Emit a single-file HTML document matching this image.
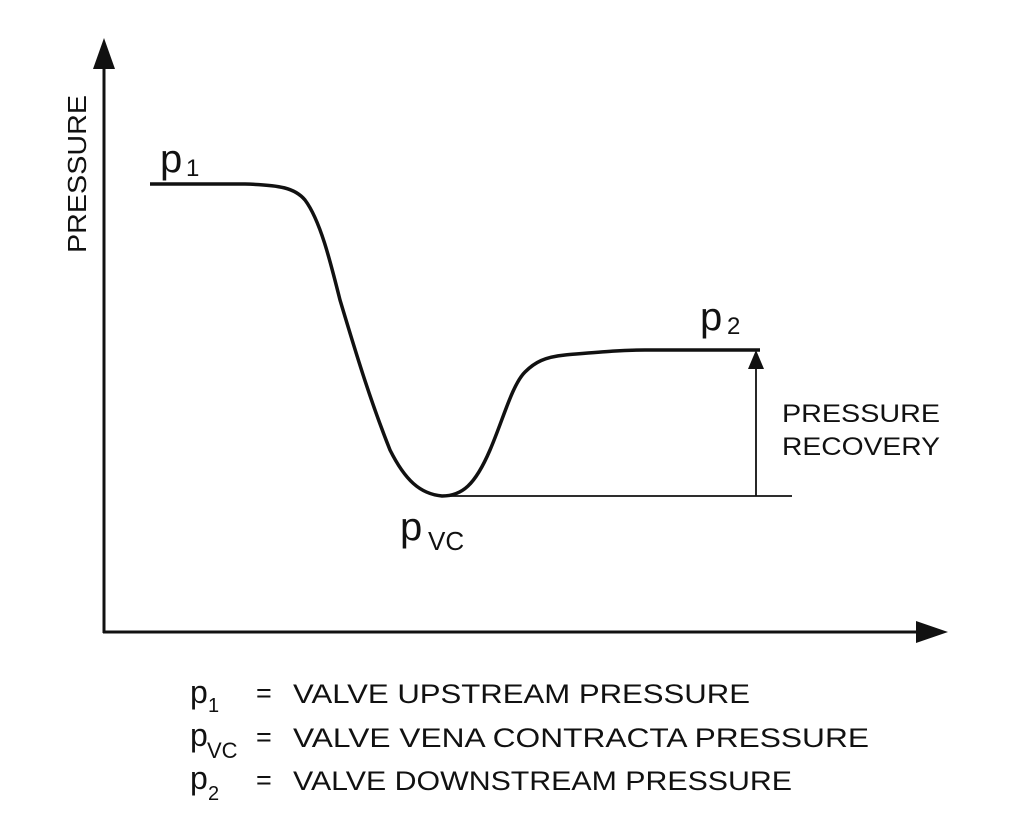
<!DOCTYPE html>
<html><head><style>body{margin:0;background:#fff}svg{display:block}</style></head>
<body>
<svg width="1024" height="815" viewBox="0 0 1024 815" xmlns="http://www.w3.org/2000/svg" font-family="Liberation Sans, sans-serif" fill="#111">
<line x1="104" y1="66" x2="104" y2="633" stroke="#111" stroke-width="3"/>
<polygon points="104,38 93,69 115,69" fill="#111"/>
<line x1="103" y1="632" x2="918" y2="632" stroke="#111" stroke-width="3"/>
<polygon points="948,632 916,621 916,643" fill="#111"/>
<path d="M150,184 L245,184 C280,185 295,188 305,200 C320,220 330,260 340,300 C355,350 370,400 390,450 C405,480 420,494 442,496 C462,496 475,485 490,450 C503,420 512,385 525,372 C535,362 545,357 565,355 C600,352 620,350 645,350 L760,350" fill="none" stroke="#111" stroke-width="3.5"/>
<line x1="442" y1="496" x2="792" y2="496" stroke="#111" stroke-width="1.8"/>
<line x1="756" y1="496" x2="756" y2="366" stroke="#111" stroke-width="1.8"/>
<polygon points="756,350 748,369 764,369" fill="#111"/>
<text transform="translate(86,253) rotate(-90)" font-size="26" textLength="158" lengthAdjust="spacingAndGlyphs">PRESSURE</text>
<text x="160" y="172" font-size="40">p</text><text x="186" y="176" font-size="24">1</text>
<text x="700" y="330" font-size="40">p</text><text x="727" y="334" font-size="24">2</text>
<text x="400" y="540" font-size="40">p</text><text x="428" y="550" font-size="26">VC</text>
<text x="782" y="422" font-size="25" textLength="158" lengthAdjust="spacingAndGlyphs">PRESSURE</text>
<text x="782" y="455" font-size="25" textLength="158" lengthAdjust="spacingAndGlyphs">RECOVERY</text>
<g font-size="27">
<text x="190" y="703" font-size="32">p</text><text x="208" y="712" font-size="20">1</text>
<text x="256" y="702">=</text>
<text x="293" y="703" textLength="457" lengthAdjust="spacingAndGlyphs">VALVE UPSTREAM PRESSURE</text>
<text x="190" y="746" font-size="32">p</text><text x="207" y="758" font-size="22">VC</text>
<text x="256" y="746">=</text>
<text x="293" y="747" textLength="576" lengthAdjust="spacingAndGlyphs">VALVE VENA CONTRACTA PRESSURE</text>
<text x="190" y="789" font-size="32">p</text><text x="208" y="800" font-size="20">2</text>
<text x="256" y="789">=</text>
<text x="293" y="790" textLength="499" lengthAdjust="spacingAndGlyphs">VALVE DOWNSTREAM PRESSURE</text>
</g>
</svg>
</body></html>
